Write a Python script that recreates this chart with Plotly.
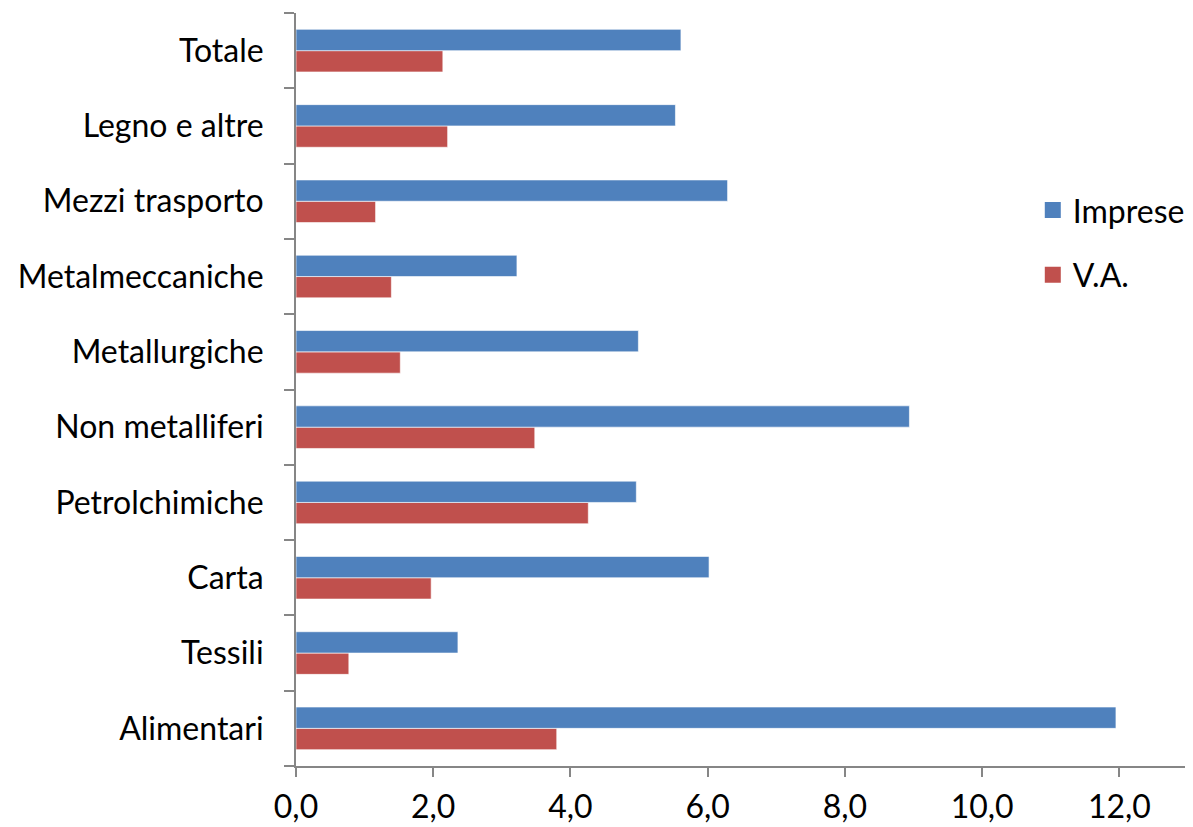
import plotly.graph_objects as go

categories = ["Alimentari", "Tessili", "Carta", "Petrolchimiche", "Non metalliferi",
              "Metallurgiche", "Metalmeccaniche", "Mezzi trasporto", "Legno e altre", "Totale"]
imprese = [11.95, 2.36, 6.02, 4.96, 8.94, 4.99, 3.22, 6.29, 5.53, 5.61]
va = [3.80, 0.77, 1.97, 4.26, 3.48, 1.52, 1.39, 1.16, 2.21, 2.14]
x_ticks = [0, 2, 4, 6, 8, 10, 12]

font_family = "Lato, Carlito, Calibri, sans-serif"
blue = "#4F81BD"
red = "#C0504D"

fig = go.Figure()
fig.add_trace(go.Bar(
    y=categories, x=va, name="V.A.", orientation="h",
    marker=dict(color=red, line=dict(color="rgba(255,255,255,0.6)", width=1)),
    showlegend=False,
))
fig.add_trace(go.Bar(
    y=categories, x=imprese, name="Imprese", orientation="h",
    marker=dict(color=blue, line=dict(color="rgba(255,255,255,0.6)", width=1)),
    showlegend=False,
))
# legend entries with larger square symbols
fig.add_trace(go.Scatter(x=[None], y=[None], mode="markers", name="Imprese",
                         marker=dict(symbol="square", size=20, color=blue),
                         legendrank=1, legendgroup="a"))
fig.add_trace(go.Scatter(x=[None], y=[None], mode="markers", name="V.A.",
                         marker=dict(symbol="square", size=20, color=red),
                         legendrank=2, legendgroup="b"))

# the page body has an 8px default margin, so the figure is sized/offset to compensate
fig.update_layout(
    width=1185, height=819,
    margin=dict(l=288, r=3, t=5, b=61),
    paper_bgcolor="white", plot_bgcolor="white",
    barmode="group", bargap=0.434, bargroupgap=0,
    separators=",.",
    font=dict(family=font_family, size=32, color="black"),
    legend=dict(
        x=0.826, y=0.7745, xanchor="left", yanchor="top",
        font=dict(size=32, family=font_family),
        tracegroupgap=20, traceorder="grouped",
        bgcolor="rgba(0,0,0,0)", itemwidth=30,
    ),
    xaxis=dict(
        range=[0, 13], tickvals=x_ticks, tickformat=".1f",
        showgrid=False, zeroline=False, automargin=False,
        showline=True, linecolor="#868686", linewidth=2,
        ticks="outside", ticklen=9, tickwidth=2, tickcolor="#868686",
        ticklabelstandoff=3,
        tickfont=dict(size=32, family=font_family),
    ),
    yaxis=dict(
        type="category", showgrid=False, zeroline=False, automargin=False,
        showline=True, linecolor="#868686", linewidth=2,
        ticks="outside", tickson="boundaries", ticklen=10, tickwidth=2, tickcolor="#868686",
        ticklabelstandoff=24,
        tickfont=dict(size=32, family=font_family),
    ),
)

fig.write_html("out.html")
